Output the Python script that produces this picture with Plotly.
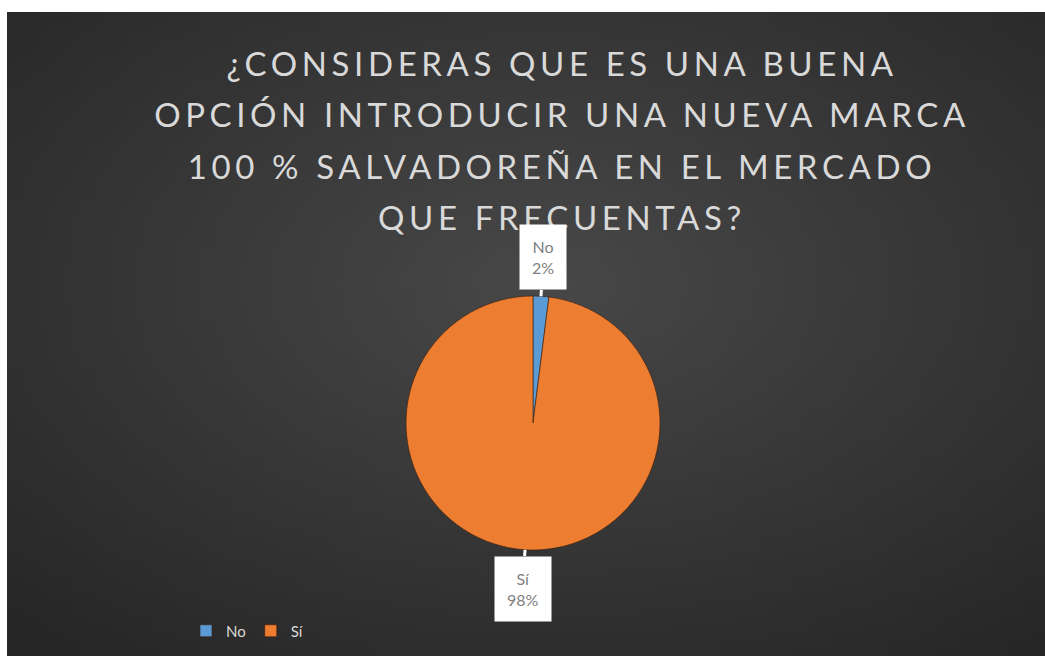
import base64, math, struct, zlib
import plotly.graph_objects as go

# ---- data ----
labels = ["No", "Sí"]
values = [2, 98]
colors = ["#5B9BD5", "#ED7D31"]
title_lines = ["¿CONSIDERAS QUE ES UNA BUENA",
               "OPCIÓN INTRODUCIR UNA NUEVA MARCA",
               "100 % SALVADOREÑA EN EL MERCADO",
               "QUE FRECUENTAS?"]

# ---- layout constants (pixels) ----
FW, FH = 1045, 656
ML, MT, MR, MB = 7, 12, 0, 0
PW, PH = FW - ML - MR, FH - MT - MB
PIE_CX, PIE_CY, PIE_R = 533, 423, 127
LABEL_OFF = 39
FONT = "Lato, Open Sans, sans-serif"


def px_to_paper(px, py):
    return (px - ML) / PW, 1 - (py - MT) / PH


# ---- radial gradient background as small PNG ----
def gradient_png(w, h):
    rows = []
    cx, cy = 0.52, 0.42
    for j in range(h):
        row = bytearray([0])
        for i in range(w):
            dx = (i / (w - 1) - cx) / 0.75
            dy = (j / (h - 1) - cy) / 0.75
            d = min(math.sqrt(dx * dx + dy * dy), 1.0)
            v = int(round(72 - 34 * d))
            row += bytes([v, v, v])
        rows.append(bytes(row))
    raw = b"".join(rows)

    def chunk(t, data):
        c = struct.pack(">I", len(data)) + t + data
        return c + struct.pack(">I", zlib.crc32(t + data) & 0xffffffff)

    png = b"\x89PNG\r\n\x1a\n"
    png += chunk(b"IHDR", struct.pack(">IIBBBBB", w, h, 8, 2, 0, 0, 0))
    png += chunk(b"IDAT", zlib.compress(raw, 9))
    png += chunk(b"IEND", b"")
    return "data:image/png;base64," + base64.b64encode(png).decode()


x0, y1 = px_to_paper(PIE_CX - PIE_R, PIE_CY - PIE_R)
x1, y0 = px_to_paper(PIE_CX + PIE_R, PIE_CY + PIE_R)

fig = go.Figure(go.Pie(
    labels=labels, values=values, sort=False, direction="clockwise",
    rotation=0, textinfo="none", hoverinfo="label+percent",
    marker=dict(colors=colors, line=dict(color="rgba(60,30,10,0.6)", width=1)),
    domain=dict(x=[x0, x1], y=[y0, y1]),
))

# data-label callouts computed from slice mid-angles
total = sum(values)
annotations = []
cum = 0
for lab, val in zip(labels, values):
    mid = (cum + val / 2) / total * 2 * math.pi
    cum += val
    tipx, tipy = px_to_paper(PIE_CX + PIE_R * math.sin(mid), PIE_CY - PIE_R * math.cos(mid))
    pct = round(val / total * 100)
    annotations.append(dict(
        x=tipx, y=tipy, xref="paper", yref="paper",
        text=f"{lab}<br>{pct}%", showarrow=True, arrowhead=0, arrowwidth=3,
        arrowcolor="white", ax=LABEL_OFF * math.sin(mid), ay=-LABEL_OFF * math.cos(mid),
        bgcolor="white", borderpad=12,
        font=dict(family=FONT, size=16, color="#7f7f7f"),
    ))

lx, ly = px_to_paper(186, 631)
fig.update_layout(
    width=FW, height=FH,
    margin=dict(l=ML, r=MR, t=MT, b=MB, autoexpand=False),
    paper_bgcolor="white",
    title=dict(text="<br>".join(title_lines), x=562 / FW, xanchor="center",
               y=1 - 76 / FH, yanchor="top", xref="container", yref="container",
               font=dict(family=FONT, size=33, color="#d9d9d9")),
    legend=dict(orientation="h", x=lx, y=ly, xanchor="left", yanchor="middle",
                font=dict(family=FONT, size=15, color="#d9d9d9"),
                bgcolor="rgba(0,0,0,0)"),
    annotations=annotations,
    images=[dict(source=gradient_png(104, 64), xref="paper", yref="paper",
                 x=0, y=1, sizex=1, sizey=1, sizing="stretch", layer="below",
                 xanchor="left", yanchor="top")],
)

post = """
document.body.style.margin = '0';
document.body.style.overflow = 'hidden';
document.querySelectorAll('.gtitle').forEach(function (t) {
  t.style.letterSpacing = '4.6px';
  t.querySelectorAll('tspan.line').forEach(function (s, i) {
    s.setAttribute('dy', (i * 1.56) + 'em');
  });
});
"""

fig.write_html("out.html", post_script=post, config={"displayModeBar": False})
